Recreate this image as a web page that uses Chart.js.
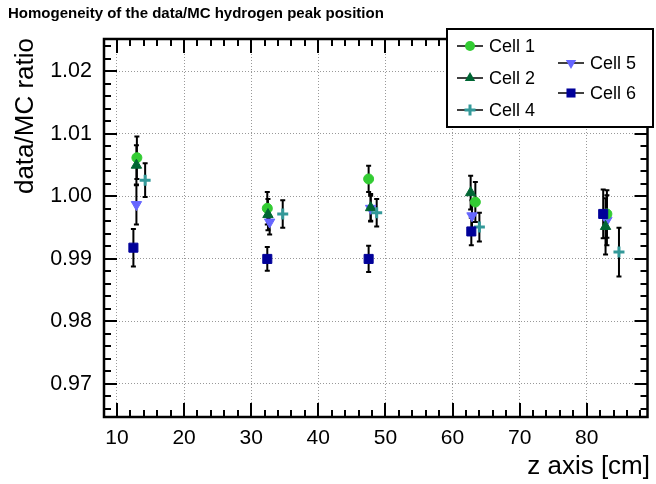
<!DOCTYPE html>
<html lang="en">
<head>
<meta charset="UTF-8">
<title>Homogeneity of the data/MC hydrogen peak position</title>
<style>
  html, body { margin: 0; padding: 0; background: #fff; }
  #wrap { width: 656px; height: 484px; }
</style>
</head>
<body>
<div id="wrap"><canvas id="grafico" width="656" height="484"></canvas></div>
<script src="https://cdn.jsdelivr.net/npm/chart.js"></script>
<script>
// values (z position in cm, ratio, error)
const cellNames = ['Cell 1', 'Cell 2', 'Cell 4', 'Cell 5', 'Cell 6'];

const zCell1 = [12.97, 32.4, 47.5, 63.4, 83.0];
const rCell1 = [1.0062, 0.9981, 1.0028, 0.9991, 0.9972];
const eCell1 = [0.0034, 0.0026, 0.0021, 0.0032, 0.0038];

const zCell2 = [12.9, 32.5, 47.8, 62.7, 82.8];
const rCell2 = [1.0050, 0.9971, 0.9982, 1.0006, 0.9952];
const eCell2 = [0.0032, 0.0025, 0.0022, 0.0027, 0.0045];

const zCell4 = [14.2, 34.7, 48.7, 64.0, 84.8];
const rCell4 = [1.0026, 0.9972, 0.9974, 0.9951, 0.9911];
const eCell4 = [0.0027, 0.0022, 0.0022, 0.0023, 0.0039];

const zCell5 = [12.9, 32.75, 47.8, 62.9, 83.0];
const rCell5 = [0.9987, 0.9959, 0.9981, 0.9969, 0.9962];
const eCell5 = [0.0032, 0.0020, 0.0020, 0.0025, 0.0040];

const zCell6 = [12.45, 32.4, 47.5, 62.8, 82.45];
const rCell6 = [0.9918, 0.9900, 0.9900, 0.9944, 0.9972];
const eCell6 = [0.0030, 0.0019, 0.0021, 0.0022, 0.0039];

const xTicks = [10, 20, 30, 40, 50, 60, 70, 80];
const yTicks = [0.97, 0.98, 0.99, 1.00, 1.01, 1.02];

const FONTE = '"Liberation Sans", Arial, Helvetica, sans-serif';

// drawing order: higher "ordem" is painted first
const estilos = [
    { cor: 'rgb(51,204,51)',  forma: 'circle',   raio: 5,   rot: 0,   borda: 1, ordem: 4 },
    { cor: 'rgb(0,102,51)',   forma: 'triangle', raio: 6,   rot: 0,   borda: 1, ordem: 3 },
    { cor: 'rgb(51,153,153)', forma: 'cross',    raio: 5.5, rot: 0,   borda: 3, ordem: 2 },
    { cor: 'rgb(102,102,255)',forma: 'triangle', raio: 6,   rot: 180, borda: 1, ordem: 5 },
    { cor: 'rgb(0,0,153)',    forma: 'rect',     raio: 6.4, rot: 0,   borda: 1, ordem: 1 }
];

const series = [
    [zCell1, rCell1, eCell1],
    [zCell2, rCell2, eCell2],
    [zCell4, rCell4, eCell4],
    [zCell5, rCell5, eCell5],
    [zCell6, rCell6, eCell6]
];

let datasets = [];
for (let i = 0; i < series.length; i++) {
    let pontos = [];
    for (let j = 0; j < series[i][0].length; j++) {
        pontos.push({ x: series[i][0][j], y: series[i][1][j], err: series[i][2][j] });
    }
    datasets.push({
        label: cellNames[i],
        data: pontos,
        pointStyle: estilos[i].forma,
        pointRadius: estilos[i].raio,
        pointHoverRadius: estilos[i].raio,
        pointRotation: estilos[i].rot,
        pointBorderWidth: estilos[i].borda,
        backgroundColor: estilos[i].cor,
        borderColor: estilos[i].cor,
        showLine: false,
        order: estilos[i].ordem
    });
}

// marker for the legend (same shapes as chart.js point styles)
function desenharMarcador(ctx, est, x, y) {
    ctx.save();
    ctx.fillStyle = est.cor;
    ctx.strokeStyle = est.cor;
    ctx.lineWidth = est.borda;
    const r = est.raio;
    ctx.beginPath();
    if (est.forma === 'circle') {
        ctx.arc(x, y, r, 0, Math.PI * 2);
        ctx.fill();
    } else if (est.forma === 'triangle') {
        const s = est.rot === 180 ? -1 : 1;
        ctx.moveTo(x, y - s * r);
        ctx.lineTo(x + r * 0.866, y + s * r * 0.5);
        ctx.lineTo(x - r * 0.866, y + s * r * 0.5);
        ctx.closePath();
        ctx.fill();
    } else if (est.forma === 'cross') {
        ctx.moveTo(x - r, y); ctx.lineTo(x + r, y);
        ctx.moveTo(x, y - r); ctx.lineTo(x, y + r);
        ctx.stroke();
    } else {
        const h = r * Math.SQRT1_2;
        ctx.rect(x - h, y - h, 2 * h, 2 * h);
        ctx.fill();
    }
    ctx.restore();
}

const estiloRoot = {
    id: 'estiloRoot',
    beforeDatasetsDraw(chart) {
        // error bars
        const ctx = chart.ctx;
        const sx = chart.scales.x, sy = chart.scales.y;
        ctx.save();
        ctx.strokeStyle = '#000';
        ctx.lineWidth = 2;
        chart.data.datasets.forEach((ds) => {
            ds.data.forEach((p) => {
                const px = sx.getPixelForValue(p.x);
                const y1 = sy.getPixelForValue(p.y + p.err);
                const y2 = sy.getPixelForValue(p.y - p.err);
                ctx.beginPath();
                ctx.moveTo(px, y1); ctx.lineTo(px, y2);
                ctx.moveTo(px - 2.5, y1); ctx.lineTo(px + 2.5, y1);
                ctx.moveTo(px - 2.5, y2); ctx.lineTo(px + 2.5, y2);
                ctx.stroke();
            });
        });
        ctx.restore();
    },
    afterDraw(chart) {
        const ctx = chart.ctx;
        const a = chart.chartArea;
        const sx = chart.scales.x, sy = chart.scales.y;
        ctx.save();
        ctx.strokeStyle = '#000';

        // ticks inside the frame
        ctx.lineWidth = 2;
        ctx.beginPath();
        for (let v = 0.966; v < 1.025; v += 0.002) {
            const py = Math.round(sy.getPixelForValue(v));
            const maior = yTicks.some((t) => Math.abs(t - v) < 1e-6);
            const len = maior ? 13 : 7;
            ctx.moveTo(a.left, py); ctx.lineTo(a.left + len, py);
            ctx.moveTo(a.right, py); ctx.lineTo(a.right - len, py);
        }
        for (let v = 10; v <= 88; v += 2) {
            const px = Math.round(sx.getPixelForValue(v));
            const maior = xTicks.includes(v);
            const len = maior ? 14 : 7;
            ctx.moveTo(px, a.bottom); ctx.lineTo(px, a.bottom - len);
            ctx.moveTo(px, a.top); ctx.lineTo(px, a.top + len);
        }
        ctx.stroke();

        // frame
        ctx.lineWidth = 2.5;
        ctx.strokeRect(a.left, a.top, a.right - a.left, a.bottom - a.top);

        // titles
        ctx.fillStyle = '#000';
        ctx.font = 'bold 15px ' + FONTE;
        ctx.textAlign = 'left';
        ctx.textBaseline = 'alphabetic';
        ctx.fillText('Homogeneity of the data/MC hydrogen peak position', 8, 18);

        ctx.font = '26px ' + FONTE;
        ctx.textAlign = 'right';
        ctx.fillText('z axis [cm]', 650, 474);

        ctx.save();
        ctx.translate(33, 38);
        ctx.rotate(-Math.PI / 2);
        ctx.textAlign = 'right';
        ctx.fillText('data/MC ratio', 0, 0);
        ctx.restore();

        // legend box
        ctx.fillStyle = '#fff';
        ctx.fillRect(447, 29, 206, 98);
        ctx.lineWidth = 2;
        ctx.strokeRect(447, 29, 206, 98);

        const pos = [
            { x: 470, y: 46 }, { x: 470, y: 78 }, { x: 470, y: 110 },
            { x: 571, y: 63 }, { x: 571, y: 93 }
        ];
        ctx.font = '18px ' + FONTE;
        ctx.textAlign = 'left';
        ctx.textBaseline = 'middle';
        for (let i = 0; i < cellNames.length; i++) {
            const p = pos[i];
            ctx.strokeStyle = '#000';
            ctx.lineWidth = 1.5;
            ctx.beginPath();
            ctx.moveTo(p.x - 13, p.y); ctx.lineTo(p.x + 13, p.y);
            ctx.stroke();
            desenharMarcador(ctx, estilos[i], p.x, p.y);
            ctx.fillStyle = '#000';
            ctx.fillText(cellNames[i], p.x + 19, p.y + 1);
        }
        ctx.restore();
    }
};

new Chart(document.getElementById('grafico'), {
    type: 'scatter',
    data: { datasets: datasets },
    options: {
        responsive: false,
        animation: false,
        events: [],
        layout: { padding: { top: 39, right: 6, left: 0, bottom: 0 } },
        plugins: {
            legend: { display: false },
            title: { display: false },
            tooltip: { enabled: false }
        },
        scales: {
            x: {
                type: 'linear',
                min: 8.07,
                max: 89.05,
                afterFit: (s) => { s.height = 67; },
                afterBuildTicks: (s) => { s.ticks = xTicks.map((v) => ({ value: v })); },
                ticks: {
                    padding: 9,
                    color: '#000',
                    font: { family: FONTE, size: 21 },
                    callback: (v) => String(v)
                },
                grid: { color: '#999', lineWidth: 1, drawTicks: false },
                border: { display: false, dash: [1, 2] }
            },
            y: {
                type: 'linear',
                min: 0.9647,
                max: 1.0252,
                afterFit: (s) => { s.width = 104; },
                afterBuildTicks: (s) => { s.ticks = yTicks.map((v) => ({ value: v })); },
                ticks: {
                    padding: 12,
                    color: '#000',
                    font: { family: FONTE, size: 21.5 },
                    callback: (v) => Number(v).toFixed(2)
                },
                grid: { color: '#999', lineWidth: 1, drawTicks: false },
                border: { display: false, dash: [1, 2] }
            }
        }
    },
    plugins: [estiloRoot]
});
</script>
</body>
</html>
